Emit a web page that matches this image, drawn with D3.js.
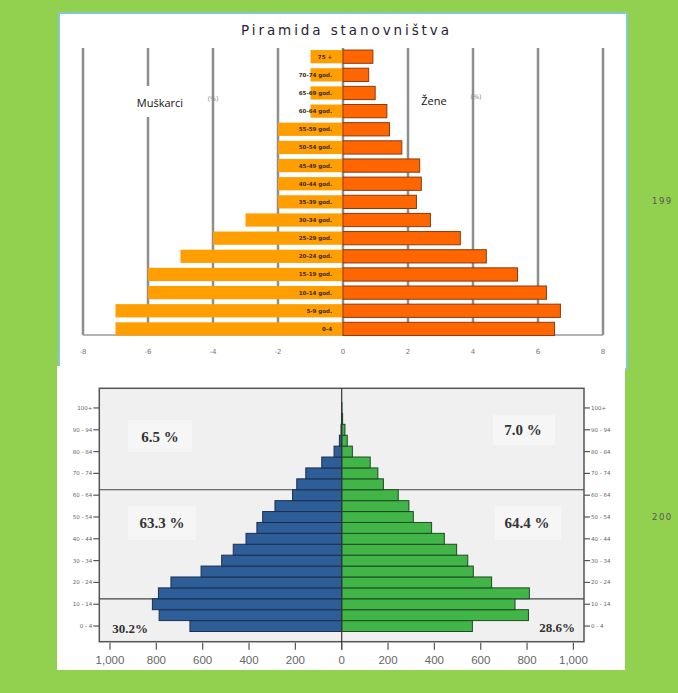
<!DOCTYPE html>
<html><head><meta charset="utf-8">
<script src="https://cdn.jsdelivr.net/npm/d3@7"></script>
<style>body{margin:0;background:#92D050;}svg{display:block;}</style>
</head><body>
<script>
// ---- Top chart data (percent) ----
const topCategories = ["75 +","70-74 god.","65-69 god.","60-64 god.","55-59 god.","50-54 god.","45-49 god.","40-44 god.","35-39 god.","30-34 god.","25-29 god.","20-24 god.","15-19 god.","10-14 god.","5-9 god.","0-4"];
const topMen   = [1,1,1,1,2,2,2,2,2,3,4,5,6,6,7,7];
const topWomen = [0.92,0.79,0.99,1.35,1.43,1.81,2.36,2.41,2.26,2.69,3.61,4.41,5.37,6.26,6.69,6.51];
const topTicks = [-8,-6,-4,-2,0,2,4,6,8];

// ---- Bottom chart data (counts) ----
const botCategories = ["0 - 4","5 - 9","10 - 14","15 - 19","20 - 24","25 - 29","30 - 34","35 - 39","40 - 44","45 - 49","50 - 54","55 - 59","60 - 64","65 - 69","70 - 74","75 - 79","80 - 84","85 - 89","90 - 94","95 - 99","100+"];
const botMale   = [655,788,817,791,737,607,518,468,413,366,341,288,212,194,155,86,33,10,3,1,0];
const botFemale = [564,806,748,810,647,568,544,496,443,388,309,290,244,180,156,123,46,24,14,4,1];
const botTickLabels = ["0 - 4","10 - 14","20 - 24","30 - 34","40 - 44","50 - 54","60 - 64","70 - 74","80 - 84","90 - 94","100+"];
const botXTicks = [-1000,-800,-600,-400,-200,0,200,400,600,800,1000];
const shareLabels = [
  {t:"6.5 %", x:160, y:437, box:[128,420,64,32]},
  {t:"7.0 %", x:523, y:430, box:[493,415,62,30]},
  {t:"63.3 %", x:162, y:523, box:[128,506,68,34]},
  {t:"64.4 %", x:527, y:523, box:[495,506,66,34]},
  {t:"30.2%", x:130, y:628, box:null},
  {t:"28.6%", x:557, y:627, box:null}
];
const yearLabels = ["199","200"];

const svg = d3.select("body").append("svg").attr("width",678).attr("height",693);
svg.append("rect").attr("width",678).attr("height",693).attr("fill","#92D050");

// ---------- Top panel ----------
svg.append("rect").attr("x",59).attr("y",13).attr("width",568).attr("height",356)
  .attr("fill","#fff").attr("stroke","#86c8cc").attr("stroke-width",2);

svg.append("text").attr("x",345).attr("y",35).attr("text-anchor","middle")
  .attr("font-family","DejaVu Sans").attr("font-size",13.5).attr("fill","#2a1d35")
  .attr("textLength",208).text("Piramida stanovništva");

const xT = d3.scaleLinear().domain([-8,8]).range([83,603]);
const yT = d3.scaleBand().domain(topCategories).range([47.6,338]).paddingInner(0.27).paddingOuter(0.135);

const gT = svg.append("g");
gT.selectAll("line.grid").data(topTicks).join("line").attr("class","grid")
  .attr("x1",d=>xT(d)).attr("x2",d=>xT(d)).attr("y1",48).attr("y2",335)
  .attr("stroke","#8e8e8e").attr("stroke-width",2.5);
gT.append("line").attr("x1",xT(-8)).attr("x2",xT(8)).attr("y1",335).attr("y2",335)
  .attr("stroke","#9a9a9a").attr("stroke-width",1.5);
gT.selectAll("text.tick").data(topTicks).join("text").attr("class","tick")
  .attr("x",d=>xT(d)).attr("y",354).attr("text-anchor","middle")
  .attr("font-family","DejaVu Sans").attr("font-size",7).attr("fill","#777").text(d=>d);

// labels
gT.append("rect").attr("x",133).attr("y",86).attr("width",55).attr("height",31).attr("fill","#fff");
gT.append("text").attr("x",160).attr("y",107).attr("text-anchor","middle")
  .attr("font-family","Open Sans").attr("font-size",11).attr("fill","#111").text("Muškarci");
gT.append("text").attr("x",213).attr("y",101).attr("text-anchor","middle")
  .attr("font-family","DejaVu Sans").attr("font-size",6.5).attr("fill","#888").text("(%)");
gT.append("text").attr("x",434).attr("y",105).attr("text-anchor","middle")
  .attr("font-family","Open Sans").attr("font-size",11).attr("fill","#111").text("Žene");
gT.append("text").attr("x",476).attr("y",99).attr("text-anchor","middle")
  .attr("font-family","DejaVu Sans").attr("font-size",6.5).attr("fill","#888").text("(%)");

gT.selectAll("rect.men").data(topCategories).join("rect").attr("class","men")
  .attr("x",(d,i)=>xT(-topMen[i])).attr("width",(d,i)=>xT(0)-xT(-topMen[i]))
  .attr("y",d=>yT(d)).attr("height",yT.bandwidth()).attr("fill","#FF9E00");
gT.selectAll("rect.women").data(topCategories).join("rect").attr("class","women")
  .attr("x",xT(0)).attr("width",(d,i)=>xT(topWomen[i])-xT(0))
  .attr("y",d=>yT(d)).attr("height",yT.bandwidth()).attr("fill","#FF6600")
  .attr("stroke","#8a3a10").attr("stroke-width",1);
gT.selectAll("text.cat").data(topCategories).join("text").attr("class","cat")
  .attr("x",332).attr("y",d=>yT(d)+yT.bandwidth()/2+2).attr("text-anchor","end")
  .attr("font-family","DejaVu Sans").attr("font-size",5.5).attr("font-weight","bold").attr("fill","#3a2a10")
  .text(d=>d);

// ---------- Bottom panel ----------
svg.append("rect").attr("x",57).attr("y",366).attr("width",568).attr("height",304).attr("fill","#fff");

const xB = d3.scaleLinear().domain([-1000,1000]).range([110,573.4]);
const yB = d3.scaleBand().domain(botCategories.slice().reverse()).range([402.5,631.5]).padding(0);
const fL = 99.3, fR = 584, fT = 388.3, fB = 641.7;

const gB = svg.append("g");
gB.append("rect").attr("x",fL).attr("y",fT).attr("width",fR-fL).attr("height",fB-fT)
  .attr("fill","#f0f0f0").attr("stroke","#555").attr("stroke-width",1.5);

shareLabels.forEach(s=>{
  if(s.box) gB.append("rect").attr("x",s.box[0]).attr("y",s.box[1]).attr("width",s.box[2]).attr("height",s.box[3]).attr("fill","#f6f6f6");
});

const divY = [yB("65 - 69")+yB.bandwidth(), yB("15 - 19")+yB.bandwidth()];
gB.selectAll("line.div").data(divY).join("line").attr("class","div")
  .attr("x1",fL).attr("x2",fR).attr("y1",d=>d).attr("y2",d=>d)
  .attr("stroke","#444").attr("stroke-width",1.2);

gB.selectAll("rect.male").data(botCategories).join("rect").attr("class","male")
  .attr("x",(d,i)=>xB(-botMale[i])).attr("width",(d,i)=>xB(0)-xB(-botMale[i]))
  .attr("y",d=>yB(d)).attr("height",yB.bandwidth()).attr("fill","#2E5E98")
  .attr("stroke","#1b2f4f").attr("stroke-width",1);
gB.selectAll("rect.female").data(botCategories).join("rect").attr("class","female")
  .attr("x",xB(0)).attr("width",(d,i)=>xB(botFemale[i])-xB(0))
  .attr("y",d=>yB(d)).attr("height",yB.bandwidth()).attr("fill","#41B548")
  .attr("stroke","#1f4a22").attr("stroke-width",1);

gB.append("line").attr("x1",xB(0)).attr("x2",xB(0)).attr("y1",fT).attr("y2",fB+8)
  .attr("stroke","#333").attr("stroke-width",1.2);

shareLabels.forEach(s=>{
  gB.append("text").attr("x",s.x).attr("y",s.y+5).attr("text-anchor","middle")
    .attr("font-family","Liberation Serif").attr("font-weight","bold")
    .attr("font-size",s.box?15:13).attr("fill","#333").text(s.t);
});

botTickLabels.forEach(c=>{
  const y = yB(c)+yB.bandwidth()/2;
  gB.append("line").attr("x1",fL-6).attr("x2",fL).attr("y1",y).attr("y2",y).attr("stroke","#555").attr("stroke-width",1.2);
  gB.append("line").attr("x1",fR).attr("x2",fR+6).attr("y1",y).attr("y2",y).attr("stroke","#555").attr("stroke-width",1.2);
  gB.append("text").attr("x",fL-7).attr("y",y+2).attr("text-anchor","end")
    .attr("font-family","DejaVu Sans").attr("font-size",5.5).attr("fill","#666").text(c);
  gB.append("text").attr("x",fR+7).attr("y",y+2).attr("text-anchor","start")
    .attr("font-family","DejaVu Sans").attr("font-size",5.5).attr("fill","#666").text(c);
});

const fmt = d3.format(",");
botXTicks.forEach(v=>{
  gB.append("line").attr("x1",xB(v)).attr("x2",xB(v)).attr("y1",fB+1).attr("y2",fB+8).attr("stroke","#555").attr("stroke-width",1.2);
  gB.append("text").attr("x",xB(v)).attr("y",fB+22).attr("text-anchor","middle")
    .attr("font-family","Liberation Sans").attr("font-size",11.5).attr("fill","#666").text(fmt(Math.abs(v)));
});

// right-side year labels
svg.append("text").attr("x",652).attr("y",204).attr("font-family","DejaVu Sans").attr("font-size",8.5)
  .attr("letter-spacing",1.5).attr("fill","#555").text(yearLabels[0]);
svg.append("text").attr("x",652).attr("y",520).attr("font-family","DejaVu Sans").attr("font-size",8.5)
  .attr("letter-spacing",1.5).attr("fill","#555").text(yearLabels[1]);
</script>
</body></html>
